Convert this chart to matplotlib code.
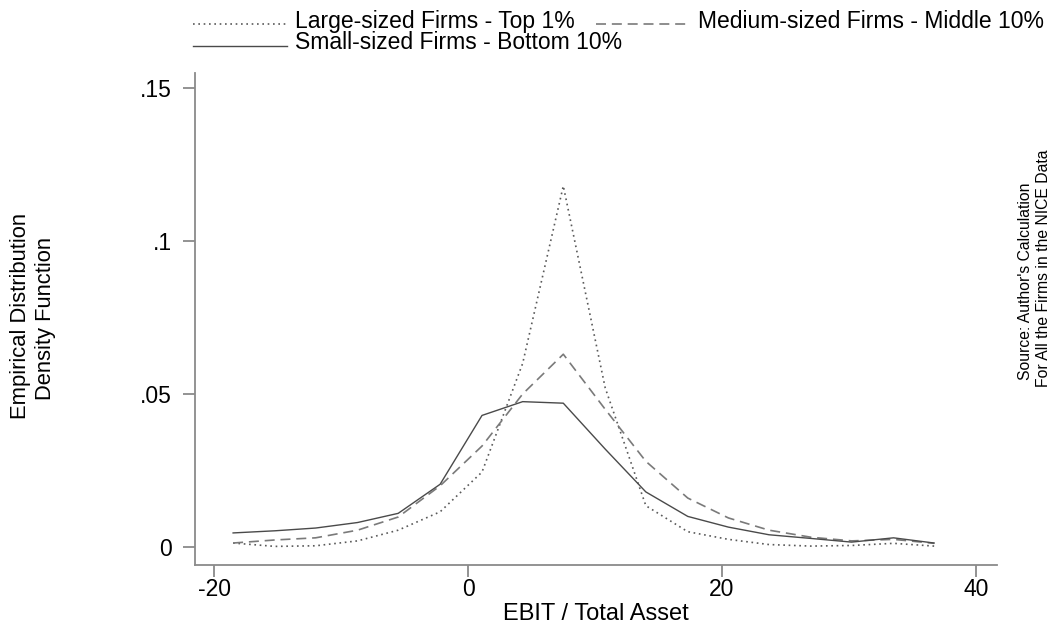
import matplotlib.pyplot as plt
from matplotlib.lines import Line2D
from matplotlib.ticker import FixedLocator

plt.rcParams['font.family'] = ['Liberation Sans', 'DejaVu Sans']

# evaluation grid of the density estimates (EBIT / Total Asset)
ebit = [-18.5, -15.2, -12.0, -8.7, -5.5, -2.2, 1.1, 4.3, 7.5,
        10.8, 14.0, 17.3, 20.5, 23.7, 27.0, 30.2, 33.5, 36.7]

large_top1 = [0.0013, 0.0002, 0.0004, 0.0020, 0.0055, 0.0115, 0.0245, 0.0600, 0.1180,
              0.0520, 0.0135, 0.0050, 0.0025, 0.0008, 0.0003, 0.0005, 0.0012, 0.0003]
medium_mid10 = [0.0013, 0.0023, 0.0030, 0.0055, 0.0098, 0.0200, 0.0330, 0.0500, 0.0630,
                0.0450, 0.0280, 0.0160, 0.0095, 0.0055, 0.0032, 0.0020, 0.0025, 0.0012]
small_bot10 = [0.0046, 0.0053, 0.0062, 0.0080, 0.0110, 0.0205, 0.0430, 0.0475, 0.0470,
               0.0320, 0.0180, 0.0100, 0.0065, 0.0040, 0.0028, 0.0016, 0.0030, 0.0013]

xticks = [-20, 0, 20, 40]
xtick_labels = ['-20', '0', '20', '40']
yticks = [0, 0.05, 0.1, 0.15]
ytick_labels = ['0', '.05', '.1', '.15']

name_large = 'Large-sized Firms - Top 1%'
name_medium = 'Medium-sized Firms - Middle 10%'
name_small = 'Small-sized Firms - Bottom 10%'

TICK_FONT = 16.5
LEGEND_FONT = 16.5
XLABEL_FONT = 17
YLABEL_FONT = 15.8
NOTE_FONT = 11.3
AXIS_GREY = '#8a8a8a'

DOT = dict(color='#5a5a5a', lw=1.2, linestyle=(0, (1, 2.2)))
DASH = dict(color='#7a7a7a', lw=1.2, linestyle=(0, (6, 3.5)))
SOLID = dict(color='#4a4a4a', lw=1.0, linestyle='-')

W, H = 1063, 625
fig = plt.figure(figsize=(W / 100, H / 100), dpi=100)
ax = fig.add_axes([195 / W, 1 - 565 / H, (997 - 195) / W, (565 - 73) / H])

ax.plot(ebit, large_top1, **DOT)
ax.plot(ebit, medium_mid10, **DASH)
ax.plot(ebit, small_bot10, **SOLID)

ax.set_xlim(-21.5, 41.65)
ax.set_ylim(-0.00588, 0.1549)
ax.xaxis.set_major_locator(FixedLocator(xticks))
ax.set_xticklabels(xtick_labels)
ax.set_yticks(yticks)
ax.set_yticklabels(ytick_labels)

for side in ('top', 'right'):
    ax.spines[side].set_visible(False)
for side in ('left', 'bottom'):
    ax.spines[side].set_color(AXIS_GREY)
    ax.spines[side].set_linewidth(1.3)
ax.tick_params(axis='both', length=8.5, width=1.3, color=AXIS_GREY,
               labelsize=TICK_FONT)
ax.tick_params(axis='y', pad=8)
ax.tick_params(axis='x', pad=1)

ax.set_xlabel('EBIT / Total Asset', fontsize=XLABEL_FONT, labelpad=1)

# y title, one text per line (Stata style)
fig.text(21 / W, 1 - 316 / H, 'Empirical Distribution', rotation=90,
         ha='center', va='center', fontsize=YLABEL_FONT)
fig.text(46 / W, 1 - 318 / H, 'Density Function', rotation=90,
         ha='center', va='center', fontsize=YLABEL_FONT)

# source note on the right
fig.text(1025 / W, 1 - 281 / H, "Source: Author's Calculation", rotation=90,
         ha='center', va='center', fontsize=NOTE_FONT)
fig.text(1043 / W, 1 - 268 / H, 'For All the Firms in the NICE Data', rotation=90,
         ha='center', va='center', fontsize=NOTE_FONT)


# legend drawn by hand: Stata lets the 2nd key sit right after the 1st label
def legend_key(x0, x1, y_line, y_base, style, label):
    fig.add_artist(Line2D([x0 / W, x1 / W], [1 - y_line / H, 1 - y_line / H],
                          transform=fig.transFigure, **style))
    fig.text((x1 + 8) / W, 1 - y_base / H, label, ha='left', va='baseline',
             fontsize=LEGEND_FONT)


legend_key(193, 287, 24, 28, DOT, name_large)
legend_key(596, 690, 24, 28, DASH, name_medium)
legend_key(193, 287, 46, 49, SOLID, name_small)

fig.savefig('out.png', dpi=100, facecolor='white')
